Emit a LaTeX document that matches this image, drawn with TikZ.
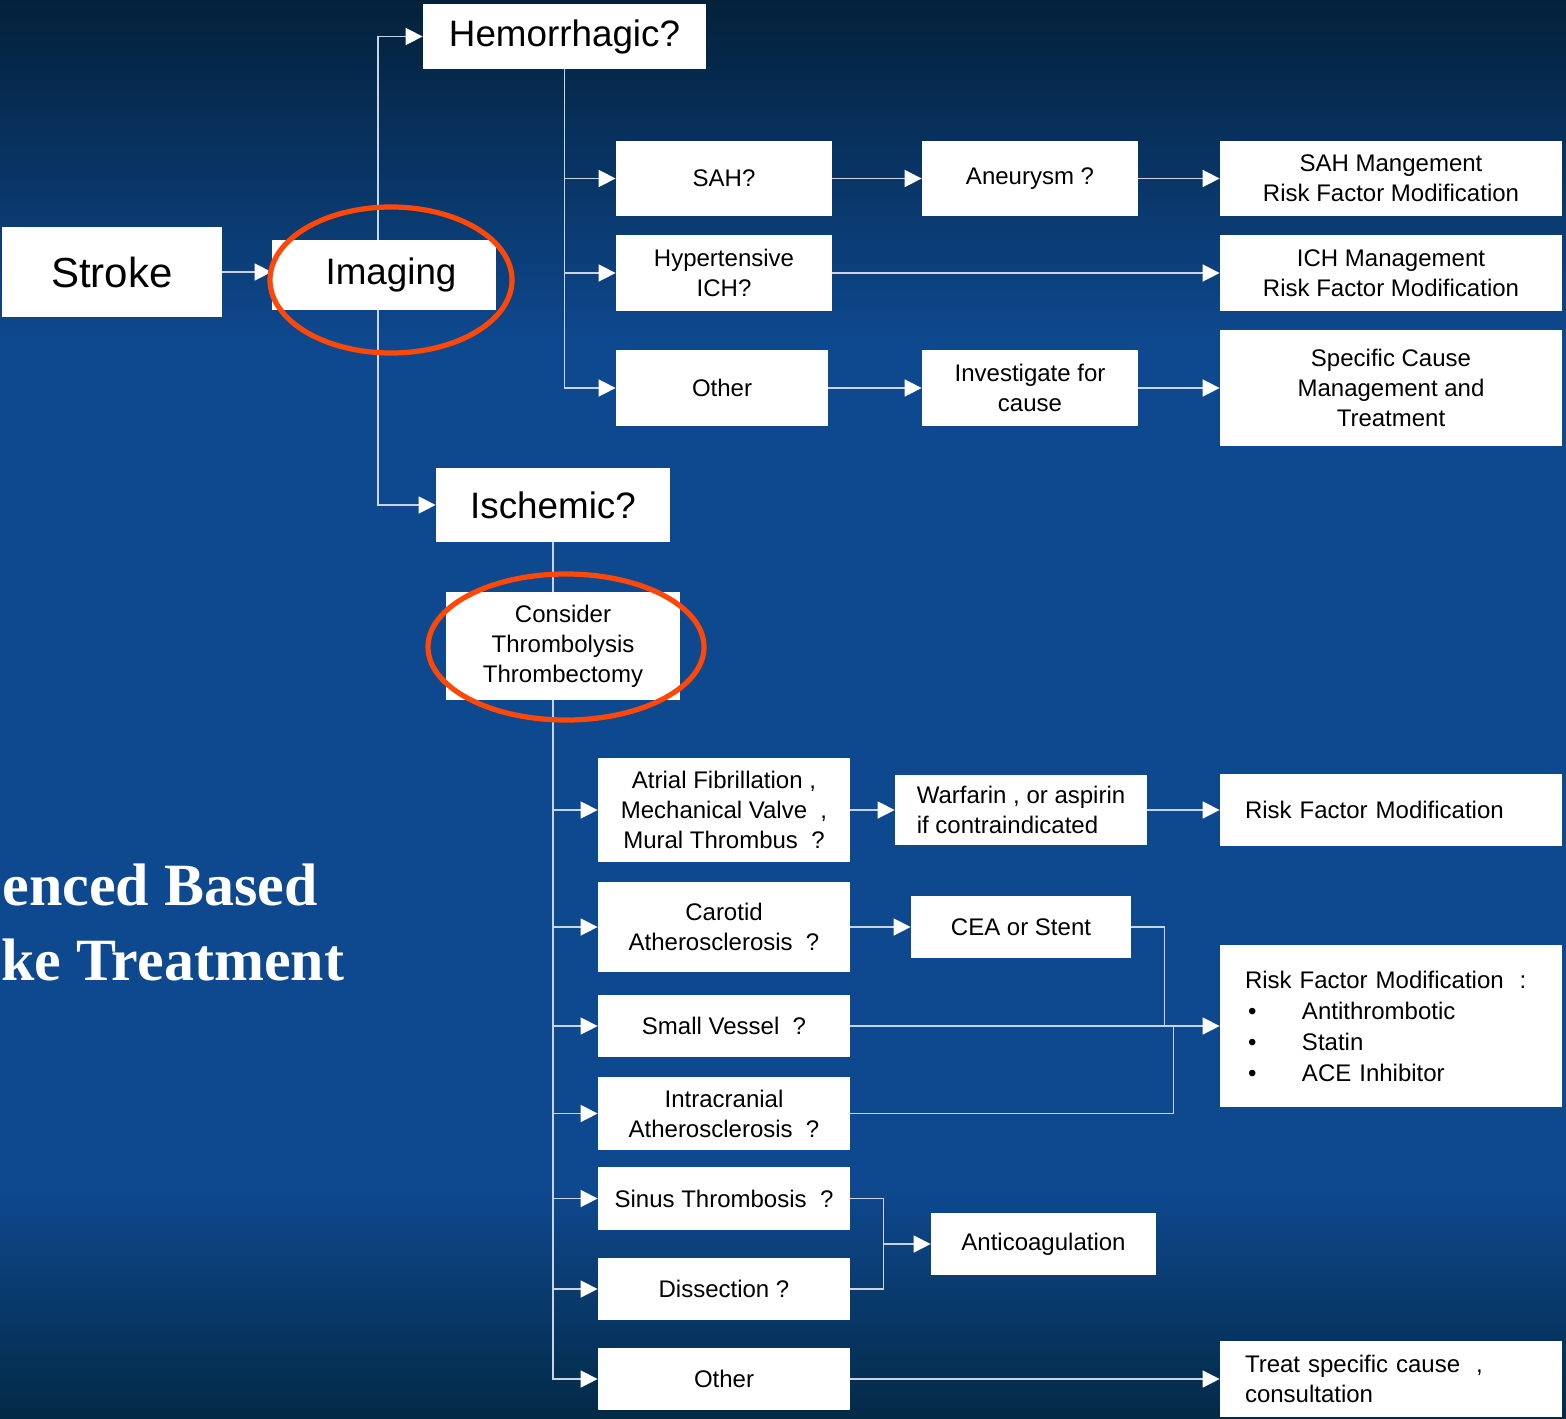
\documentclass[tikz,border=0pt]{standalone}
\usepackage{fontspec}
\setmainfont{Liberation Sans}
\newfontfamily\titlefont{Liberation Serif}
\usetikzlibrary{arrows.meta, positioning}
\definecolor{bgtop}{RGB}{3,33,58}
\definecolor{bgmid}{RGB}{14,72,142}
\definecolor{bgbot}{RGB}{3,42,70}
\definecolor{wire}{RGB}{200,212,226}
\definecolor{ring}{RGB}{255,72,8}
\pgfdeclarelayer{bg}
\pgfdeclarelayer{wires}
\pgfsetlayers{bg,wires,main}

\newcommand{\bigtxt}{\fontsize{18.4}{22}\selectfont}
\newcommand{\smalltxt}{\fontsize{12}{15}\selectfont}
\newcommand{\bul}{\makebox[28.5pt][l]{\hspace{1.5pt}\textbullet}}

\tikzset{
  box/.style={fill=white, text=black, inner sep=0pt, align=center, font=\smalltxt},
  bigbox/.style={box, font=\bigtxt},
  leftbox/.style={box, align=left, inner xsep=12.5pt},
  link/.style={draw=wire, line width=0.8pt},
  arr/.style={link, -{Triangle[length=8.5pt,width=8.5pt,color=white]}},
  circled/.style={draw=ring, line width=2.6pt},
  titletxt/.style={font=\titlefont\bfseries\fontsize{30}{36}\selectfont, text=white, inner sep=0pt},
}

\begin{document}
\begin{tikzpicture}[x=0.5pt, y=-0.5pt]
  \useasboundingbox (0,0) rectangle (1566,1418);
  \clip (0,0) rectangle (1566,1418);

  % background
  \begin{pgfonlayer}{bg}
    \fill[bgmid] (0,0) rectangle (1566,1418);
    \shade[top color=bgtop, bottom color=bgmid] (0,0) rectangle (1566,340);
    \shade[top color=bgmid, bottom color=bgbot] (0,1190) rectangle (1566,1418);
  \end{pgfonlayer}

  % title at the left edge
  \node[titletxt, anchor=base east] (titleA) at (318,905) {enced Based};
  \node[titletxt, anchor=base west] (titleB) at (1,980) {ke Treatment};

  % first column
  \node[bigbox, font=\fontsize{21}{25}\selectfont, minimum width=110pt, minimum height=45pt] (stroke) at (112,272) {Stroke};
  \node[bigbox, minimum width=112pt, minimum height=35pt] (imaging) at (384,275) {\hspace{7pt}Imaging};
  \node[bigbox, minimum width=141.5pt, minimum height=32.5pt] (hem) at (564.5,36.5) {Hemorrhagic?};
  \node[bigbox, minimum width=117pt, minimum height=37pt] (isch) at (553,505) {Ischemic?};

  % hemorrhagic branch
  \node[box, minimum width=108pt, minimum height=37.5pt] (sah) at (724,178.5) {SAH?};
  \node[box, minimum width=108pt, minimum height=38pt] (hich) at (724,273) {Hypertensive\\ICH?};
  \node[box, minimum width=106pt, minimum height=38pt] (hother) at (722,388) {Other};
  \node[box, minimum width=108pt, minimum height=37.5pt] (aneur) at (1030,178.5) {Aneurysm ?};
  \node[box, minimum width=108pt, minimum height=38pt] (invest) at (1030,388) {Investigate for\\cause};
  \node[box, minimum width=171pt, minimum height=37.5pt] (sahmgmt) at (1391,178.5) {SAH Mangement\\Risk Factor Modification};
  \node[box, minimum width=171pt, minimum height=38pt] (ichmgmt) at (1391,273) {ICH Management\\Risk Factor Modification};
  \node[box, minimum width=171pt, minimum height=58pt] (spec) at (1391,388) {Specific Cause\\Management and\\Treatment};

  % ischemic branch
  \node[box, minimum width=117pt, minimum height=54pt] (consider) at (563,646) {Consider\\Thrombolysis\\Thrombectomy};
  \node[box, minimum width=126pt, minimum height=52pt] (af) at (724,810) {Atrial Fibrillation ,\\Mechanical Valve\ \ ,\\Mural Thrombus\ \ ?};
  \node[box, minimum width=126pt, minimum height=45pt] (carotid) at (724,927) {Carotid\\Atherosclerosis\ \ ?};
  \node[box, minimum width=126pt, minimum height=31pt] (small) at (724,1026) {Small Vessel\ \ ?};
  \node[box, minimum width=126pt, minimum height=36.5pt] (intra) at (724,1113.5) {Intracranial\\Atherosclerosis\ \ ?};
  \node[box, minimum width=126pt, minimum height=31.5pt] (sinus) at (724,1198.5) {Sinus Thrombosis\ \ ?};
  \node[box, minimum width=126pt, minimum height=31pt] (diss) at (724,1289) {Dissection ?};
  \node[box, minimum width=126pt, minimum height=31pt] (iother) at (724,1379) {Other};

  \node[box, align=left, minimum width=126pt, minimum height=35pt] (warf) at (1021,810) {Warfarin , or aspirin\\if contraindicated};
  \node[box, minimum width=110pt, minimum height=31pt] (cea) at (1021,927) {CEA or Stent};
  \node[box, minimum width=112.5pt, minimum height=31pt] (anti) at (1043.5,1244) {Anticoagulation};
  \node[leftbox, text width=146pt, minimum height=36pt] (rfm) at (1391,810) {Risk Factor Modification};
  \node[leftbox, text width=146pt, minimum height=81pt, font=\fontsize{12}{15.5}\selectfont] (rfmlist) at (1391,1026)
    {Risk Factor Modification\ \ :\\\bul Antithrombotic\\\bul Statin\\\bul ACE Inhibitor};
  \node[leftbox, text width=146pt, minimum height=38pt] (treat) at (1391,1379) {Treat specific cause\ \ ,\\consultation};

  % join points
  \coordinate[left=27.5pt of rfmlist.west] (ceajoin);
  \coordinate[left=23pt of rfmlist.west] (icjoin);
  \coordinate[left=23.5pt of anti.west] (acjoin);

  % connectors
  \begin{pgfonlayer}{wires}
    \draw[arr] (stroke.east) -- (stroke.east -| imaging.west);
    \draw[arr] ([xshift=-3pt]imaging.north) |- (hem.west);
    \draw[arr] ([xshift=-3pt]imaging.south) |- (isch.west);

    \draw[arr] (hem.south) |- (sah.west);
    \draw[arr] (hem.south) |- (hich.west);
    \draw[arr] (hem.south) |- (hother.west);
    \draw[arr] (sah) -- (aneur);
    \draw[arr] (aneur) -- (sahmgmt);
    \draw[arr] (hich) -- (ichmgmt);
    \draw[arr] (hother.east) -- (invest.west);
    \draw[arr] (invest) -- (spec);

    \foreach \n in {af, carotid, small, intra, sinus, diss, iother}
      \draw[arr] (isch.south) |- (\n.west);
    \draw[arr] (af) -- (warf);
    \draw[arr] (warf) -- (rfm);
    \draw[arr] (carotid) -- (cea);
    \draw[link] (cea.east) -| (ceajoin);
    \draw[arr] (small) -- (rfmlist);
    \draw[link] (intra.east) -| (icjoin);
    \draw[link] (sinus.east) -| (acjoin);
    \draw[link] (diss.east) -| (acjoin);
    \draw[arr] (acjoin) -- (anti.west);
    \draw[arr] (iother) -- (treat);
  \end{pgfonlayer}

  % red rings
  \draw[circled] ([xshift=3.5pt,yshift=-2.5pt]imaging.center) ellipse [x radius=60.5pt, y radius=36.5pt];
  \draw[circled] ([xshift=1.5pt,yshift=-0.5pt]consider.center) ellipse [x radius=69pt, y radius=36.5pt];
\end{tikzpicture}
\end{document}
